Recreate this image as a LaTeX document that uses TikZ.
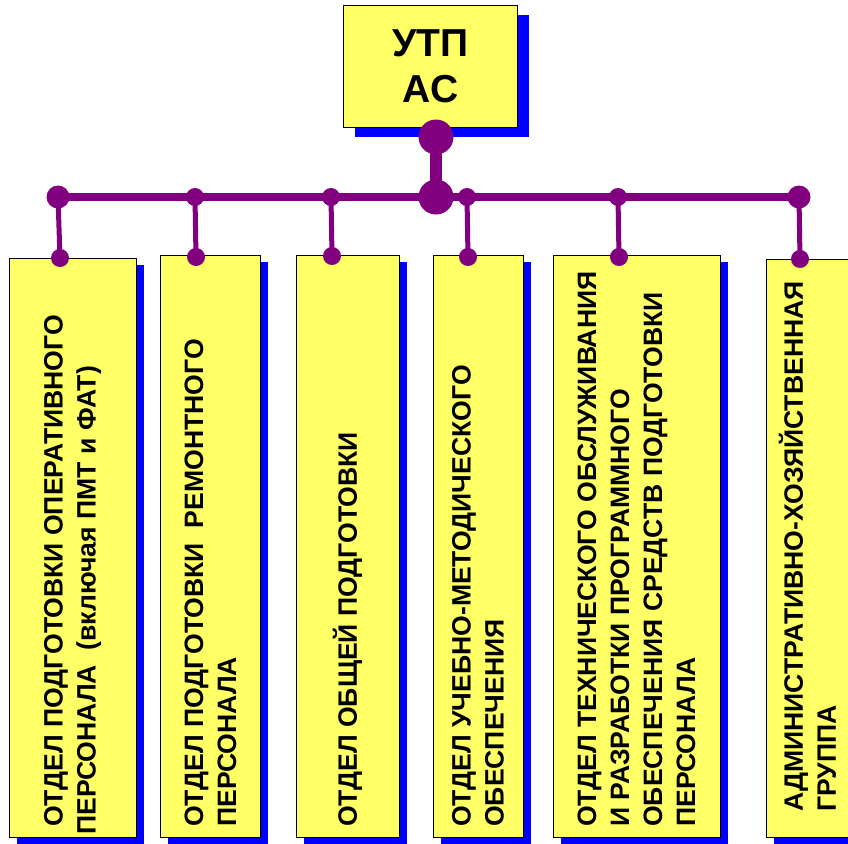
\documentclass[tikz,border=0pt]{standalone}
\usepackage{fontspec}
\setmainfont{Liberation Sans}
\usetikzlibrary{shadows}
\definecolor{boxyellow}{RGB}{255,255,102}
\definecolor{shadowblue}{RGB}{0,0,255}
\definecolor{linkpurple}{RGB}{128,0,128}
\begin{document}
\begin{tikzpicture}[x=1pt,y=-1pt,
  unitbox/.style={draw=black, line width=1.3pt, fill=boxyellow, inner sep=0pt, anchor=north west,
    general shadow={fill=shadowblue, shadow xshift=7pt, shadow yshift=-6pt}},
  headbox/.style={draw=black, line width=1.3pt, fill=boxyellow, inner sep=0pt, anchor=north west,
    general shadow={fill=shadowblue, shadow xshift=11pt, shadow yshift=-9pt},
    font=\bfseries\fontsize{39}{46}\selectfont, align=center},
  vlabel/.style={rotate=90, anchor=west, align=left, inner sep=0pt,
    font=\bfseries\fontsize{26.6}{33}\selectfont},
  hubdot/.style={circle, fill=linkpurple, inner sep=0pt, minimum size=35pt},
  enddot/.style={circle, fill=linkpurple, inner sep=0pt, minimum size=23pt},
  smalldot/.style={circle, fill=linkpurple, inner sep=0pt, minimum size=18pt},
  stem/.style={draw=linkpurple, line width=12pt},
  busline/.style={draw=linkpurple, line width=8pt},
  dropline/.style={draw=linkpurple, line width=5pt}
]
\useasboundingbox (0,0) rectangle (848,843);

% head box
\node[headbox, minimum width=174pt, minimum height=122pt] (utp) at (343,5) {УТП\\АС};

% unit boxes
\node[unitbox, minimum width=127pt, minimum height=579pt] (b1) at (9,258) {};
\node[unitbox, minimum width=100pt, minimum height=582pt] (b2) at (160,255) {};
\node[unitbox, minimum width=103pt, minimum height=582pt] (b3) at (296,255) {};
\node[unitbox, minimum width=90pt, minimum height=582pt] (b4) at (433,255) {};
\node[unitbox, minimum width=167pt, minimum height=582pt] (b5) at (553,255) {};
\node[unitbox, minimum width=86pt, minimum height=578pt] (b6) at (766,259) {};

% labels
\node[vlabel] (t1) at (72.5,827) {ОТДЕЛ ПОДГОТОВКИ ОПЕРАТИВНОГО\\\hspace*{-8pt}ПЕРСОНАЛА \ (включая ПМТ и ФАТ)};
\node[vlabel] (t2) at (210.5,827) {ОТДЕЛ ПОДГОТОВКИ \ РЕМОНТНОГО\\ПЕРСОНАЛА};
\node[vlabel] (t3) at (347.5,827) {ОТДЕЛ ОБЩЕЙ ПОДГОТОВКИ};
\node[vlabel] (t4) at (478,827) {ОТДЕЛ УЧЕБНО-МЕТОДИЧЕСКОГО\\ОБЕСПЕЧЕНИЯ};
\node[vlabel] (t5) at (636.5,827) {ОТДЕЛ ТЕХНИЧЕСКОГО ОБСЛУЖИВАНИЯ\\И РАЗРАБОТКИ ПРОГРАММНОГО\\ОБЕСПЕЧЕНИЯ СРЕДСТВ ПОДГОТОВКИ\\ПЕРСОНАЛА};
\node[vlabel] (t6) at (807.5,812) {АДМИНИСТРАТИВНО-ХОЗЯЙСТВЕННАЯ\\ГРУППА};

% connector dots
\node[hubdot] (top) at (436,137) {};
\node[hubdot] (mid) at (436,197) {};
\node[enddot] (j1) at (58,197) {};
\node[smalldot] (j2) at (195,197) {};
\node[smalldot] (j3) at (331,197) {};
\node[smalldot] (j4) at (467,197) {};
\node[smalldot] (j5) at (618,197) {};
\node[enddot] (j6) at (799,197) {};
\node[smalldot] (d1) at (60,258) {};
\node[smalldot] (d2) at (196,257) {};
\node[smalldot] (d3) at (332,256) {};
\node[smalldot] (d4) at (468,257) {};
\node[smalldot] (d5) at (619,257) {};
\node[smalldot] (d6) at (800,259) {};

% connectors
\draw[stem] (top.center) -- (mid.center);
\draw[busline] (j1.center) -- (j6.center);
\draw[dropline] (j1.center) -- (d1.center);
\draw[dropline] (j2.center) -- (d2.center);
\draw[dropline] (j3.center) -- (d3.center);
\draw[dropline] (j4.center) -- (d4.center);
\draw[dropline] (j5.center) -- (d5.center);
\draw[dropline] (j6.center) -- (d6.center);
\end{tikzpicture}
\end{document}
